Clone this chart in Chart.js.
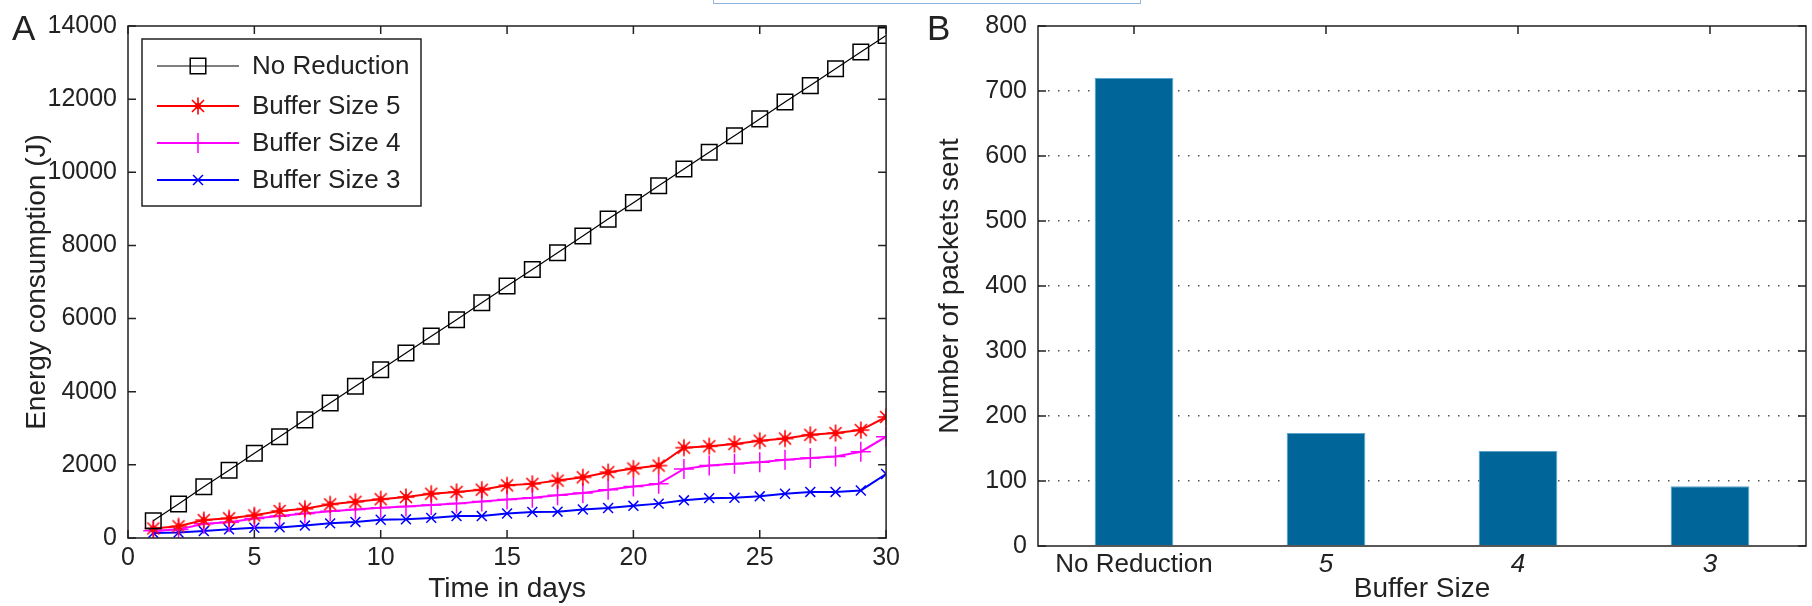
<!DOCTYPE html>
<html>
<head>
<meta charset="utf-8">
<script src="https://cdn.jsdelivr.net/npm/chart.js@4/dist/chart.umd.min.js"></script>
<style>
  body { margin: 0; background: #fff; width: 1812px; height: 606px; overflow: hidden; position: relative; }
  .box { position: absolute; top: 0; }
  #selbox { position: absolute; left: 713px; top: -10px; width: 426px; height: 12px; border: 1px solid #8fb4e0; }
</style>
</head>
<body>
<div class="box" style="left:0"><canvas id="energy-chart" width="905" height="606"></canvas></div>
<div class="box" style="left:905px"><canvas id="packets-chart" width="907" height="606"></canvas></div>
<div id="selbox"></div>
<script>
// values
const days = [1,2,3,4,5,6,7,8,9,10,11,12,13,14,15,16,17,18,19,20,21,22,23,24,25,26,27,28,29,30];
const noReduction = [470,930,1400,1850,2320,2770,3230,3690,4150,4600,5060,5520,5970,6430,6890,7340,7800,8260,8720,9170,9630,10090,10550,11000,11460,11920,12370,12830,13290,13740];
const buffer5 = [260,320,490,540,620,740,800,920,990,1060,1120,1210,1260,1320,1440,1480,1570,1660,1800,1900,1980,2470,2510,2570,2660,2720,2820,2870,2950,3310];
const buffer4 = [200,235,390,430,530,600,670,730,780,830,860,900,940,1000,1050,1100,1170,1230,1320,1410,1480,1890,1980,2030,2070,2140,2190,2230,2360,2770];
const buffer3 = [140,150,190,240,280,290,340,400,440,500,510,550,600,600,670,710,720,780,820,880,940,1030,1090,1100,1140,1210,1260,1260,1300,1750];
const dayTicks = [0,5,10,15,20,25,30];
const energyTicks = [0,2000,4000,6000,8000,10000,12000,14000];

const bufferLabels = ['No Reduction','5','4','3'];
const packetsSent = [720,174,146,92];
const packetTicks = [0,100,200,300,400,500,600,700,800];

const FONT = '"Liberation Sans", Arial, sans-serif';
const INK = '#222';

function toPoints(ys) {
    return days.map((d, i) => ({ x: d, y: ys[i] }));
}

// matlab-style '*' marker: 8 arms plus a filled centre
function starMarker(color) {
    const c = document.createElement('canvas');
    c.width = 20; c.height = 20;
    const g = c.getContext('2d');
    g.strokeStyle = color;
    g.fillStyle = color;
    g.lineWidth = 1.6;
    g.beginPath();
    for (let k = 0; k < 4; k++) {
        const a = k * Math.PI / 4;
        const dx = Math.cos(a) * 8.5, dy = Math.sin(a) * 8.5;
        g.moveTo(10 - dx, 10 - dy); g.lineTo(10 + dx, 10 + dy);
    }
    g.stroke();
    g.beginPath();
    g.arc(10, 10, 3, 0, Math.PI * 2);
    g.fill();
    return c;
}

// frame + inward tick marks, like the matlab axes box
const boxAxes = {
    id: 'boxAxes',
    afterDraw(chart, args, opts) {
        const ctx = chart.ctx;
        const a = chart.chartArea;
        const len = 8;
        ctx.save();
        ctx.strokeStyle = INK;
        ctx.lineWidth = 1.5;
        ctx.beginPath();
        chart.scales.x.ticks.forEach((t, i) => {
            const px = chart.scales.x.getPixelForTick(i);
            ctx.moveTo(px, a.top); ctx.lineTo(px, a.top + len);
            if (!opts.skipBottom) { ctx.moveTo(px, a.bottom); ctx.lineTo(px, a.bottom - len); }
        });
        chart.scales.y.ticks.forEach((t, i) => {
            const py = chart.scales.y.getPixelForTick(i);
            ctx.moveTo(a.left, py); ctx.lineTo(a.left + len, py);
            ctx.moveTo(a.right, py); ctx.lineTo(a.right - len, py);
        });
        ctx.stroke();
        ctx.strokeRect(a.left, a.top, a.right - a.left, a.bottom - a.top);
        // panel letter
        ctx.fillStyle = INK;
        ctx.font = '35px ' + FONT;
        ctx.textBaseline = 'alphabetic';
        ctx.textAlign = 'left';
        ctx.fillText(opts.letter, opts.letterX, 40);
        ctx.restore();
    }
};

// legend box drawn inside the plot area
const insideLegend = {
    id: 'insideLegend',
    afterDatasetsDraw(chart) {
        const ctx = chart.ctx;
        const rows = [66, 106, 143, 180];
        ctx.save();
        ctx.fillStyle = '#fff';
        ctx.fillRect(142, 39, 279, 167);
        ctx.strokeStyle = INK;
        ctx.lineWidth = 1.5;
        ctx.strokeRect(142, 39, 279, 167);
        chart.data.datasets.forEach((ds, i) => {
            const y = rows[i];
            ctx.strokeStyle = ds.borderColor;
            ctx.lineWidth = ds.borderWidth;
            ctx.beginPath();
            ctx.moveTo(157, y); ctx.lineTo(239, y);
            ctx.stroke();
            ctx.lineWidth = ds.pointBorderWidth;
            ctx.fillStyle = ds.pointBackgroundColor;
            Chart.helpers.drawPoint(ctx, {
                pointStyle: ds.pointStyle, radius: ds.pointRadius, rotation: 0, borderWidth: ds.pointBorderWidth
            }, 198, y);
            ctx.fillStyle = INK;
            ctx.font = '26px ' + FONT;
            ctx.textAlign = 'left';
            ctx.textBaseline = 'middle';
            ctx.fillText(ds.label, 252, y + 1);
        });
        ctx.restore();
    }
};

function series(label, ys, color, style, radius, width) {
    return {
        label: label,
        data: toPoints(ys),
        borderColor: color,
        borderWidth: width,
        pointStyle: style,
        pointRadius: radius,
        pointHoverRadius: radius,
        pointBorderColor: color,
        pointBackgroundColor: 'rgba(0,0,0,0)',
        pointBorderWidth: 1.5
    };
}

const plainNumber = v => String(v);

new Chart(document.getElementById('energy-chart').getContext('2d'), {
    type: 'line',
    data: {
        datasets: [
            series('No Reduction', noReduction, '#000', 'rect', 11, 1.2),
            series('Buffer Size 5', buffer5, '#ff0000', starMarker('#ff0000'), 10, 2),
            series('Buffer Size 4', buffer4, '#ff00ff', 'cross', 10, 2),
            series('Buffer Size 3', buffer3, '#0000ff', 'crossRot', 7, 2)
        ]
    },
    options: {
        responsive: false,
        animation: false,
        layout: { padding: { left: 0, top: 22, right: 12, bottom: 0 } },
        scales: {
            x: {
                type: 'linear',
                min: 0,
                max: 30,
                afterBuildTicks: s => { s.ticks = dayTicks.map(v => ({ value: v })); },
                afterFit: s => { s.height = 68; },
                grid: { display: false, drawTicks: false },
                border: { display: false },
                ticks: { color: INK, padding: 5, callback: plainNumber, font: { family: FONT, size: 25 } },
                title: { display: true, text: 'Time in days', color: INK, padding: 0, font: { family: FONT, size: 28 } }
            },
            y: {
                min: 0,
                max: 14000,
                afterBuildTicks: s => { s.ticks = energyTicks.map(v => ({ value: v })); },
                afterFit: s => { s.width = 128; },
                grid: { display: false, drawTicks: false },
                border: { display: false },
                ticks: { color: INK, padding: 11, callback: plainNumber, font: { family: FONT, size: 25 } },
                title: { display: true, text: 'Energy consumption (J)', color: INK, padding: { top: 20, bottom: 0 }, font: { family: FONT, size: 28 } }
            }
        },
        plugins: {
            legend: { display: false },
            tooltip: { enabled: false },
            boxAxes: { letter: 'A', letterX: 12 }
        }
    },
    plugins: [boxAxes, insideLegend]
});

new Chart(document.getElementById('packets-chart').getContext('2d'), {
    type: 'bar',
    data: {
        labels: bufferLabels,
        datasets: [{
            label: 'Number of packets sent',
            data: packetsSent,
            backgroundColor: '#006699',
            borderColor: '#5aa5d0',
            borderWidth: 1,
            barPercentage: 0.41,
            categoryPercentage: 1
        }]
    },
    options: {
        responsive: false,
        animation: false,
        layout: { padding: { left: 0, top: 22, right: 6, bottom: 0 } },
        scales: {
            x: {
                afterFit: s => { s.height = 60; },
                grid: { display: false, drawTicks: false },
                border: { display: false },
                ticks: {
                    color: INK,
                    padding: 3,
                    font: ctx => ({ family: FONT, size: 26, style: ctx.index > 0 ? 'italic' : 'normal' })
                },
                title: { display: true, text: 'Buffer Size', color: INK, padding: 0, font: { family: FONT, size: 28 } }
            },
            y: {
                min: 0,
                max: 800,
                afterBuildTicks: s => { s.ticks = packetTicks.map(v => ({ value: v })); },
                afterFit: s => { s.width = 133; },
                grid: {
                    drawTicks: false,
                    lineWidth: 1.5,
                    color: ctx => (ctx.tick && (ctx.tick.value === 0 || ctx.tick.value === 800)) ? 'rgba(0,0,0,0)' : '#555'
                },
                border: { display: false, dash: [1.5, 8.5] },
                ticks: { color: INK, padding: 11, callback: plainNumber, font: { family: FONT, size: 25 } },
                title: { display: true, text: 'Number of packets sent', color: INK, padding: { top: 28, bottom: 0 }, font: { family: FONT, size: 28 } }
            }
        },
        plugins: {
            legend: { display: false },
            tooltip: { enabled: false },
            boxAxes: { letter: 'B', letterX: 22, skipBottom: true }
        }
    },
    plugins: [boxAxes]
});
</script>
</body>
</html>
